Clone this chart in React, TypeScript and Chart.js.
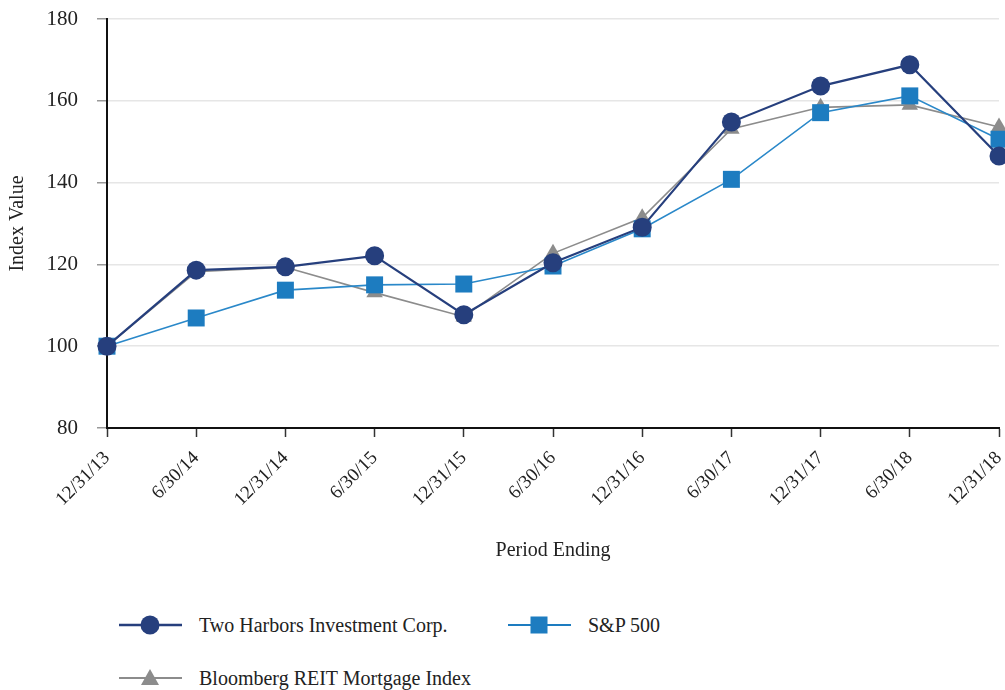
import React, { useEffect, useRef } from "react";
import { Chart, registerables } from "chart.js";

Chart.register(...registerables);

const categories = ["12/31/13", "6/30/14", "12/31/14", "6/30/15", "12/31/15", "6/30/16", "12/31/16", "6/30/17", "12/31/17", "6/30/18", "12/31/18"];
const twoHarbors = [100, 118.6, 119.4, 122.1, 107.7, 120.4, 129.1, 154.8, 163.6, 168.8, 146.5];
const sp500 = [100, 106.9, 113.7, 115.0, 115.2, 119.6, 128.7, 140.8, 157.1, 161.2, 150.6];
const bloomberg = [100, 118.2, 119.3, 113.1, 107.2, 122.7, 131.4, 153.1, 158.4, 159.0, 153.6];
const yTicks = [80, 100, 120, 140, 160, 180];

const seriesNames = ["Two Harbors Investment Corp.", "S&P 500", "Bloomberg REIT Mortgage Index"];
const colors = ["#263f7d", "#1d7cc0", "#8c8c8c"];

const FONT = '"Liberation Serif", "Times New Roman", serif';

function LegendItem({ idx, left, top }: { idx: number; left: number; top: number }) {
  const c = colors[idx];
  let marker: React.ReactNode = null;
  if (idx === 0) marker = <circle cx={31} cy={12} r={9.5} fill={c} />;
  if (idx === 1) marker = <rect x={22.5} y={3.5} width={17} height={17} fill={c} />;
  if (idx === 2) marker = <polygon points="31,3 40,19 22,19" fill={c} />;
  return (
    <div style={{ position: "absolute", left, top, height: 24, display: "flex", alignItems: "center" }}>
      <svg width={64} height={24} style={{ display: "block" }}>
        <line x1={0} y1={12} x2={63} y2={12} stroke={c} strokeWidth={idx === 0 ? 2.5 : 2} />
        {marker}
      </svg>
      <span style={{ marginLeft: 16, fontFamily: FONT, fontSize: 20, color: "#222", whiteSpace: "nowrap" }}>{seriesNames[idx]}</span>
    </div>
  );
}

export default function App() {
  const ref = useRef<HTMLCanvasElement | null>(null);

  useEffect(() => {
    if (!ref.current) return;
    const chart = new Chart(ref.current, {
      type: "line",
      data: {
        labels: categories,
        datasets: [
          {
            label: seriesNames[0],
            data: twoHarbors,
            borderColor: colors[0],
            backgroundColor: colors[0],
            borderWidth: 2.2,
            pointStyle: "circle",
            pointRadius: 9.5,
            pointBorderWidth: 0,
            pointBackgroundColor: colors[0],
            tension: 0,
          },
          {
            label: seriesNames[1],
            data: sp500,
            borderColor: "#2a88c9",
            backgroundColor: colors[1],
            borderWidth: 1.6,
            pointStyle: "rect",
            pointRadius: 12,
            pointBorderWidth: 0,
            pointBackgroundColor: colors[1],
            tension: 0,
          },
          {
            label: seriesNames[2],
            data: bloomberg,
            borderColor: colors[2],
            backgroundColor: colors[2],
            borderWidth: 1.6,
            pointStyle: "triangle",
            pointRadius: 9.5,
            pointBorderWidth: 0,
            pointBackgroundColor: colors[2],
            tension: 0,
          },
        ],
      },
      options: {
        animation: false,
        responsive: false,
        maintainAspectRatio: false,
        clip: false as any,
        layout: { autoPadding: false, padding: { top: 19, right: 6, left: 0, bottom: 0 } },
        plugins: {
          legend: { display: false },
          tooltip: { enabled: false },
        },
        scales: {
          x: {
            type: "category",
            offset: false,
            grid: {
              drawOnChartArea: false,
              drawTicks: true,
              tickLength: 9,
              tickColor: "#333",
              tickWidth: 1.5,
            },
            border: { display: true, color: "#111", width: 2 },
            ticks: {
              minRotation: 45,
              maxRotation: 45,
              autoSkip: false,
              padding: 10,
              color: "#222",
              font: { family: FONT, size: 19 },
            },
            title: {
              display: true,
              text: "Period Ending",
              color: "#222",
              font: { family: FONT, size: 20 },
              padding: { top: 0, bottom: 17 },
            },
            afterFit: (s: any) => {
              s.height = 152;
              s.paddingLeft = 0;
              s.paddingRight = 0;
            },
          },
          y: {
            min: 80,
            max: 180,
            afterBuildTicks: (s: any) => {
              s.ticks = yTicks.map((v) => ({ value: v }));
            },
            grid: {
              color: "#e6e6e6",
              lineWidth: 1.5,
              drawTicks: true,
              tickLength: 10,
              tickColor: "#999",
              tickWidth: 1.5,
            },
            border: { display: true, color: "#111", width: 2 },
            ticks: {
              padding: 19,
              color: "#222",
              font: { family: FONT, size: 21 },
            },
            title: {
              display: true,
              text: "Index Value",
              color: "#222",
              font: { family: FONT, size: 20 },
              padding: { top: 6, bottom: 0 },
            },
            afterFit: (s: any) => {
              s.width = 107;
              s.paddingTop = 0;
              s.paddingBottom = 0;
            },
          },
        },
      },
    });
    return () => chart.destroy();
  }, []);

  return (
    <div style={{ position: "absolute", left: 0, top: 0, width: 1005, height: 690, background: "#fff", overflow: "hidden" }}>
      <canvas ref={ref} width={1005} height={580} style={{ position: "absolute", left: 0, top: 0, width: 1005, height: 580 }} />
      <LegendItem idx={0} left={119} top={613} />
      <LegendItem idx={1} left={508} top={613} />
      <LegendItem idx={2} left={119} top={666} />
    </div>
  );
}
